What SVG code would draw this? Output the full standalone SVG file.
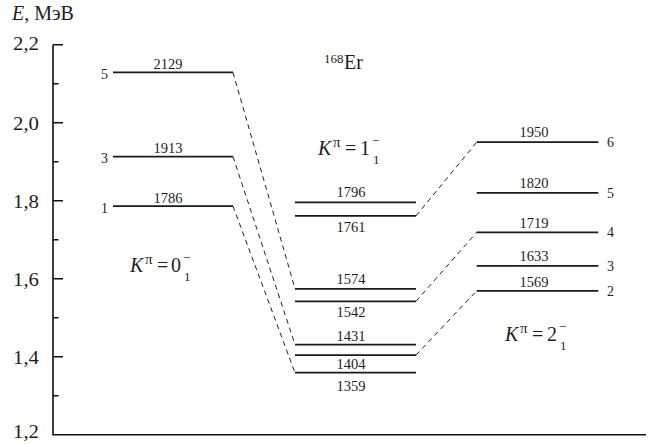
<svg xmlns="http://www.w3.org/2000/svg" width="651" height="444" viewBox="0 0 651 444">
<style>
text{font-family:"Liberation Serif","Times New Roman",serif;fill:#1e1e1e}
.ax{stroke:#111;stroke-width:1.6;fill:none}
.lv{stroke:#1a1a1a;stroke-width:1.7}
.cn{stroke:#222;stroke-width:1;stroke-dasharray:5,4;fill:none}
.tk{font-size:19px}
.en{font-size:14.5px;text-anchor:middle}
.jl{font-size:14px}
.kb{font-size:20px}
.ks{font-size:13px}
.kp{font-size:15px}
.it{font-style:italic}
</style>
<rect width="651" height="444" fill="#fff"/>
<g id="axis">
<text x="12" y="20" font-size="20"><tspan class="it">E</tspan>, МэВ</text>
<path class="ax" d="M53,44.7V434.7H646M53,44.7H63M53,122.7H63M53,200.7H63M53,278.7H63M53,356.7H63M53,83.7H58.5M53,161.7H58.5M53,239.7H58.5M53,317.7H58.5M53,395.7H58.5"/>
<text class="tk" x="13" y="50" textLength="26" lengthAdjust="spacingAndGlyphs">2,2</text>
<text class="tk" x="13" y="130" textLength="26" lengthAdjust="spacingAndGlyphs">2,0</text>
<text class="tk" x="13" y="208" textLength="26" lengthAdjust="spacingAndGlyphs">1,8</text>
<text class="tk" x="13" y="286" textLength="26" lengthAdjust="spacingAndGlyphs">1,6</text>
<text class="tk" x="13" y="364" textLength="26" lengthAdjust="spacingAndGlyphs">1,4</text>
<text class="tk" x="13" y="438" textLength="26" lengthAdjust="spacingAndGlyphs">1,2</text>
</g>
<g id="title">
<text x="324" y="63" class="ks">168</text>
<text x="344" y="69" class="kb">Er</text>
</g>
<g id="band0">
<line class="lv" x1="113" y1="72.4" x2="233" y2="72.4"/>
<line class="lv" x1="113" y1="156.6" x2="233" y2="156.6"/>
<line class="lv" x1="113" y1="206.2" x2="233" y2="206.2"/>
<text class="en" x="168" y="69">2129</text>
<text class="en" x="168" y="153">1913</text>
<text class="en" x="168" y="203">1786</text>
<text class="jl" x="108" y="79" text-anchor="end">5</text>
<text class="jl" x="108" y="163" text-anchor="end">3</text>
<text class="jl" x="108" y="213" text-anchor="end">1</text>
<text class="kb it" x="130" y="272">K</text>
<text class="kp" x="145" y="264">π</text>
<text class="kb" x="157" y="272">=</text>
<text class="kb" x="171" y="272">0</text>
<text class="ks" x="183" y="262">−</text>
<text class="ks" x="184" y="281">1</text>
</g>
<g id="band1">
<line class="lv" x1="295" y1="202.3" x2="416" y2="202.3"/>
<line class="lv" x1="295" y1="215.9" x2="416" y2="215.9"/>
<line class="lv" x1="295" y1="288.8" x2="416" y2="288.8"/>
<line class="lv" x1="295" y1="301.3" x2="416" y2="301.3"/>
<line class="lv" x1="295" y1="344.6" x2="416" y2="344.6"/>
<line class="lv" x1="295" y1="355.1" x2="416" y2="355.1"/>
<line class="lv" x1="295" y1="372.7" x2="416" y2="372.7"/>
<text class="en" x="351" y="197">1796</text>
<text class="en" x="351" y="232">1761</text>
<text class="en" x="351" y="284">1574</text>
<text class="en" x="351" y="317">1542</text>
<text class="en" x="351" y="340.5">1431</text>
<text class="en" x="351" y="369">1404</text>
<text class="en" x="351" y="390.5">1359</text>
<text class="kb it" x="318" y="155">K</text>
<text class="kp" x="333" y="147">π</text>
<text class="kb" x="345" y="155">=</text>
<text class="kb" x="360" y="155">1</text>
<text class="ks" x="372" y="145">−</text>
<text class="ks" x="373" y="164">1</text>
</g>
<g id="band2">
<line class="lv" x1="476.7" y1="142.2" x2="598.3" y2="142.2"/>
<line class="lv" x1="476.7" y1="192.9" x2="598.3" y2="192.9"/>
<line class="lv" x1="476.7" y1="232.3" x2="598.3" y2="232.3"/>
<line class="lv" x1="476.7" y1="265.8" x2="598.3" y2="265.8"/>
<line class="lv" x1="476.7" y1="290.8" x2="598.3" y2="290.8"/>
<text class="en" x="534" y="137">1950</text>
<text class="en" x="534" y="188">1820</text>
<text class="en" x="534" y="228">1719</text>
<text class="en" x="534" y="261">1633</text>
<text class="en" x="534" y="287">1569</text>
<text class="jl" x="607" y="147">6</text>
<text class="jl" x="607" y="197.5">5</text>
<text class="jl" x="607" y="237">4</text>
<text class="jl" x="607" y="270.5">3</text>
<text class="jl" x="607" y="295.5">2</text>
<text class="kb it" x="505" y="341">K</text>
<text class="kp" x="520" y="333">π</text>
<text class="kb" x="532" y="341">=</text>
<text class="kb" x="547" y="341">2</text>
<text class="ks" x="559" y="331">−</text>
<text class="ks" x="560" y="350">1</text>
</g>
<g id="connectors">
<path class="cn" d="M233,72.4L295,288.8"/>
<path class="cn" d="M233,156.6L295,344.6"/>
<path class="cn" d="M233,206.2L295,372.7"/>
<path class="cn" d="M416,215.9L476.7,142.2"/>
<path class="cn" d="M416,301.3L476.7,232.3"/>
<path class="cn" d="M416,355.1L476.7,290.8"/>
</g>
</svg>
